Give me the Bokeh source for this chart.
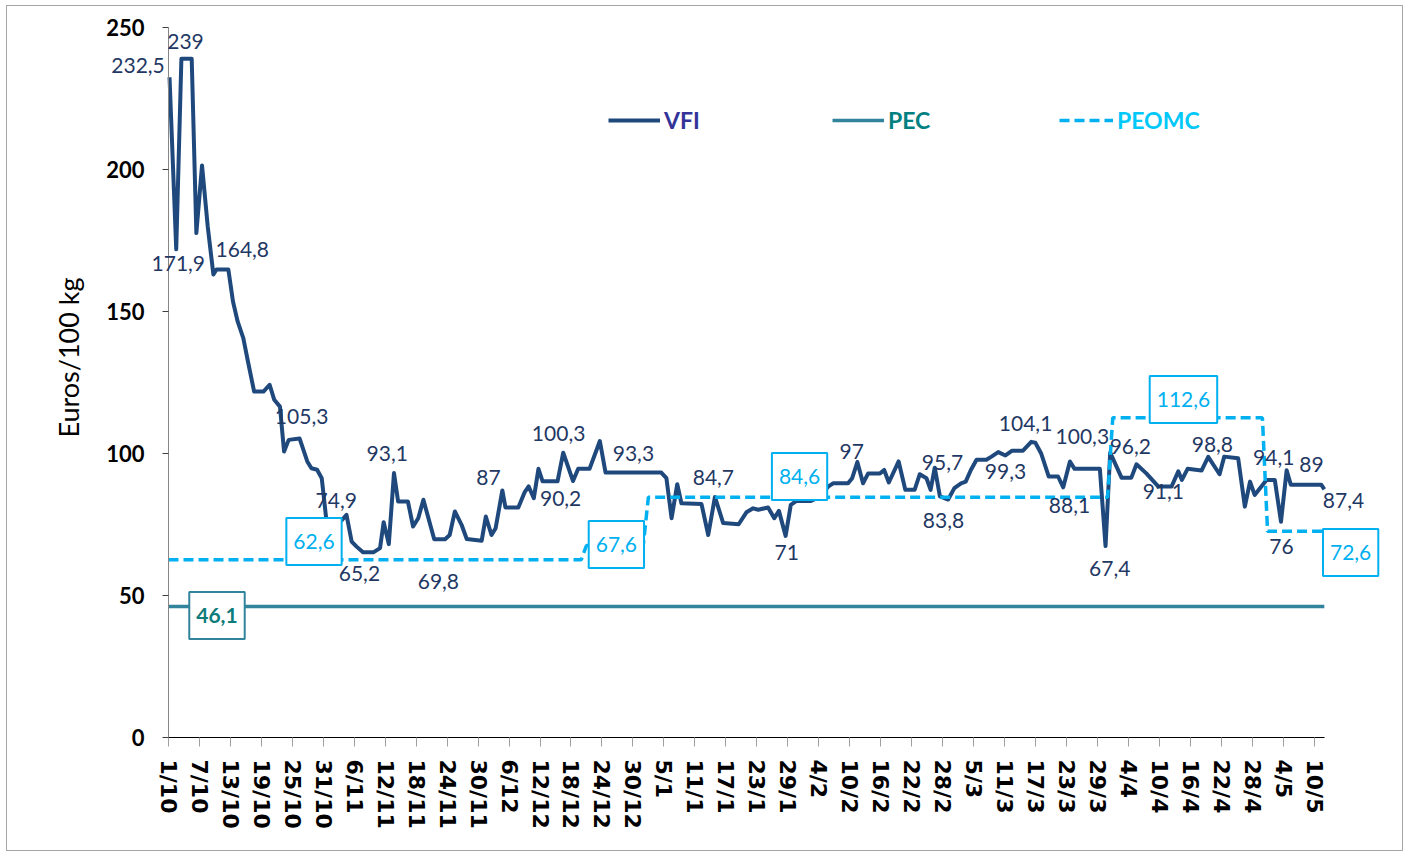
import math
from bokeh.plotting import figure
from bokeh.models import Range1d, FixedTicker, Legend, LegendItem, Label
from bokeh.embed import file_html
from bokeh.resources import INLINE

# ---------------- data ----------------
# x = days since 1/10 (daily category axis, 1/10 .. 12/5, leap year)
tick_days = list(range(0, 223, 6))
tick_labels = ["1/10", "7/10", "13/10", "19/10", "25/10", "31/10",
               "6/11", "12/11", "18/11", "24/11", "30/11",
               "6/12", "12/12", "18/12", "24/12", "30/12",
               "5/1", "11/1", "17/1", "23/1", "29/1",
               "4/2", "10/2", "16/2", "22/2", "28/2",
               "5/3", "11/3", "17/3", "23/3", "29/3",
               "4/4", "10/4", "16/4", "22/4", "28/4",
               "4/5", "10/5"]
y_ticks = [0, 50, 100, 150, 200, 250]
y_title = "Euros/100 kg"

vfi_day = [0.2, 1.5, 2.5, 4.5, 5.4, 6.5, 7.6, 8.7, 9.3, 11.6, 12.5, 13.4, 14.5, 15.4,
           16.6, 18.4, 19.6, 20.5, 21.6, 22.4, 23.3, 25.4, 26.9, 27.7, 28.8, 29.7,
           30.6, 32.0, 33.5, 34.5, 35.5, 36.4, 37.7, 39.7, 41.0, 41.7, 42.7, 43.7,
           44.5, 46.4, 47.4, 48.4, 49.4, 51.5, 53.6, 54.5, 55.5, 56.8, 57.8, 60.7,
           61.5, 62.6, 63.4, 64.7, 65.3, 67.8, 69.0, 69.8, 70.8, 71.7, 72.5, 75.4,
           76.5, 78.4, 79.4, 81.6, 83.6, 84.7, 95.5, 96.5, 97.5, 98.6, 99.4, 103.3,
           104.6, 105.9, 107.5, 110.5, 112.0, 113.3, 114.3, 116.2, 117.4, 118.3,
           119.6, 120.6, 121.7, 124.5, 126.0, 127.9, 128.8, 131.7, 132.5, 133.5,
           134.6, 135.6, 137.9, 138.7, 139.6, 141.5, 142.8, 144.6, 145.6, 146.9,
           147.7, 148.5, 149.5, 151.1, 152.3, 153.6, 154.5, 155.5, 156.6, 158.5,
           159.5, 160.8, 162.2, 163.5, 165.6, 167.2, 168.0, 169.1, 170.6, 172.4,
           173.4, 174.7, 175.6, 180.5, 181.6, 182.5, 184.7, 186.6, 187.6, 189.5,
           191.8, 194.4, 195.7, 196.4, 197.5, 200.2, 201.5, 203.7, 204.6, 207.3,
           208.6, 209.6, 210.5, 212.8, 214.4, 215.6, 216.7, 217.5, 223.4, 224.0]
vfi_value = [232.5, 171.9, 239.0, 239.0, 177.6, 201.4, 180.0, 163.0, 164.8, 164.8, 153.5,
             146.5, 140.6, 132.4, 121.8, 121.8, 124.2, 118.9, 116.5, 100.7, 104.8, 105.3,
             97.2, 94.8, 94.3, 91.3, 76.5, 74.9, 76.3, 78.4, 69.0, 67.3, 65.2, 65.2,
             66.7, 75.8, 68.1, 93.1, 83.1, 83.1, 74.3, 77.2, 83.7, 69.8, 69.8, 71.3,
             79.6, 74.9, 69.9, 69.3, 77.8, 71.3, 73.7, 87.0, 81.0, 81.0, 86.3, 88.4,
             84.3, 94.6, 90.2, 90.2, 100.3, 90.3, 94.6, 94.6, 104.4, 93.3, 93.3, 91.3,
             77.2, 89.2, 82.5, 82.2, 71.3, 84.7, 75.5, 75.1, 79.3, 80.7, 80.2, 81.0,
             77.2, 79.8, 71.0, 81.9, 83.3, 83.3, 84.5, 88.4, 89.5, 89.5, 91.3, 97.0,
             89.5, 93.0, 93.0, 94.2, 89.8, 97.2, 87.2, 87.2, 92.7, 91.3, 87.2, 95.0,
             84.9, 83.8, 87.8, 89.5, 90.1, 94.2, 97.8, 97.8, 98.9, 100.5, 99.3, 101.0,
             101.0, 104.1, 103.8, 100.1, 91.9, 91.9, 88.1, 97.2, 94.6, 94.6, 67.4,
             100.3, 91.5, 91.5, 96.2, 93.0, 88.4, 88.4, 93.7, 90.7, 94.6, 94.0, 98.8,
             92.7, 98.9, 98.3, 81.3, 90.1, 85.4, 90.7, 90.7, 76.0, 94.1, 89.0, 89.0, 87.4]

pec_day = [0, 224]
pec_value = [46.1, 46.1]

peomc_day = [0, 80, 81, 92, 93, 182, 183, 212, 213, 224]
peomc_value = [62.6, 62.6, 67.6, 67.6, 84.6, 84.6, 112.6, 112.6, 72.6, 72.6]

# data labels of VFI: text and where it sits (day, value)
vfi_label_text = ["232,5", "239", "171,9", "164,8", "105,3", "74,9", "65,2", "93,1",
                  "69,8", "87", "100,3", "90,2", "93,3", "84,7", "71", "97", "95,7",
                  "83,8", "99,3", "104,1", "100,3", "88,1", "67,4", "96,2", "91,1",
                  "98,8", "94,1", "89", "87,4", "76"]
vfi_label_x = [-5.9, 3.3, 1.9, 14.3, 25.8, 32.5, 37.0, 42.4, 52.3, 62.0, 75.6, 76.0,
               90.1, 105.6, 119.8, 132.4, 150.0, 150.2, 162.2, 166.1, 177.1, 174.6,
               182.4, 186.4, 192.8, 202.3, 214.2, 221.5, 227.7, 215.7]
vfi_label_y = [236.6, 245.1, 166.9, 171.8, 113.0, 83.4, 57.9, 100.0, 55.0, 91.5, 107.1,
               84.2, 100.0, 91.5, 65.1, 100.7, 96.8, 76.4, 93.7, 110.6, 106.0, 81.7,
               59.5, 102.5, 86.6, 103.2, 98.6, 96.1, 83.5, 67.3]

peomc_label_text = ["62,6", "67,6", "84,6", "112,6", "72,6"]
peomc_label_x = [28.2, 86.8, 122.3, 196.7, 229.1]
peomc_label_y = [69.0, 68.0, 91.9, 119.0, 65.1]

pec_label_text = ["46,1"]
pec_label_x = [9.4]
pec_label_y = [43.0]

# ---------------- styles ----------------
C_VFI = "#1F497D"
C_PEC = "#31849B"
C_PEOMC = "#00B0F0"
C_LABEL = "#1F3864"
BOX_PAD = dict(left=7, right=7, top=16, bottom=16)

# the frame covers the whole chart area so that labels beside the axes are not clipped;
# axes are pinned at day 0 / value 0 with fixed_location and limited with bounds.
p = figure(width=1397, height=846,
           x_range=Range1d(-24.61, 235.08), y_range=Range1d(-40.14, 256.34),
           output_backend="svg", toolbar_location=None,
           min_border_left=34, min_border_right=23,
           min_border_top=3, min_border_bottom=1)
p.styles = {"border": "1px solid #a6a6a6", "margin-left": "6px", "margin-top": "5px"}
p.outline_line_color = None
p.xgrid.visible = False
p.ygrid.visible = False

# y axis
yax = p.yaxis[0]
yax.fixed_location = 0
yax.bounds = (0, 250)
yax.ticker = FixedTicker(ticks=y_ticks)
yax.axis_line_color = "#868686"
yax.major_tick_line_color = "#404040"
yax.major_tick_out = 6
yax.major_tick_in = 0
yax.minor_tick_line_color = None
yax.major_label_text_font = "Lato"
yax.major_label_text_font_style = "bold"
yax.major_label_text_font_size = "22px"
yax.major_label_text_color = "black"
yax.major_label_standoff = 18

# x axis
xax = p.xaxis[0]
xax.fixed_location = 0
xax.bounds = (0, 224)
xax.ticker = FixedTicker(ticks=tick_days)
xax.major_label_overrides = {d: t for d, t in zip(tick_days, tick_labels)}
xax.major_label_orientation = "vertical"
xax.axis_line_color = "black"
xax.major_tick_line_color = "#a0a0a0"
xax.major_tick_out = 9
xax.major_tick_in = 0
xax.minor_tick_line_color = None
xax.major_label_text_font = "DejaVu Sans"
xax.major_label_text_font_style = "bold"
xax.major_label_text_font_size = "22px"
xax.major_label_text_color = "black"
xax.major_label_standoff = 13

# y axis title
p.add_layout(Label(x=-19.4, y=133.8, text=y_title, angle=math.pi / 2,
                   text_align="center", text_baseline="middle",
                   text_font="Lato", text_font_size="27px", text_color="black"))

# series
r_pec = p.line(pec_day, pec_value, line_color=C_PEC, line_width=3.5)
r_vfi = p.line(vfi_day, vfi_value, line_color=C_VFI, line_width=4, line_join="round")
r_peomc = p.line(peomc_day, peomc_value, line_color=C_PEOMC, line_width=3.5,
                 line_dash="10 5")

# legends (one per series so each label keeps its own colour)
def add_legend(label, renderer, color, loc, glyph_w):
    leg = Legend(items=[LegendItem(label=label, renderers=[renderer])],
                 location=loc, orientation="horizontal",
                 glyph_width=glyph_w, glyph_height=20, label_standoff=4,
                 padding=0, margin=0, spacing=0,
                 border_line_color=None, background_fill_alpha=0,
                 label_text_font="Lato", label_text_font_style="bold",
                 label_text_font_size="23px", label_text_color=color)
    p.add_layout(leg)

add_legend("VFI", r_vfi, "#333399", (567, 717), 52)
add_legend("PEC", r_pec, "#008080", (791, 717), 52)
add_legend("PEOMC", r_peomc, "#00C8F8", (1018, 717), 54)

# data labels
for t, x, y in zip(vfi_label_text, vfi_label_x, vfi_label_y):
    p.add_layout(Label(x=x, y=y, text=t, text_align="center", text_baseline="middle",
                       text_font="Lato", text_font_size="21px", text_color=C_LABEL))

for t, x, y in zip(peomc_label_text, peomc_label_x, peomc_label_y):
    p.add_layout(Label(x=x, y=y, text=t, text_align="center", text_baseline="middle",
                       text_font="Lato", text_font_size="21px", text_color=C_PEOMC,
                       background_fill_color="white", border_line_color=C_PEOMC,
                       border_line_width=2, padding=BOX_PAD))

for t, x, y in zip(pec_label_text, pec_label_x, pec_label_y):
    p.add_layout(Label(x=x, y=y, text=t, text_align="center", text_baseline="middle",
                       text_font="Lato", text_font_size="21px", text_color="#0E7C7B",
                       text_font_style="bold",
                       background_fill_color="white", border_line_color=C_PEC,
                       border_line_width=2, padding=BOX_PAD))

open("out.html", "w").write(file_html(p, INLINE))
